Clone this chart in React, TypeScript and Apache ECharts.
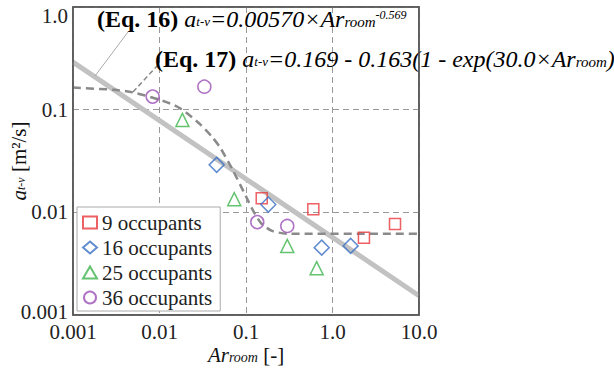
import React, { useEffect, useRef } from 'react';
import * as echarts from 'echarts';

const xTickLabels = ['0.001', '0.01', '0.1', '1.0', '10.0'];
const yTickLabels = ['0.001', '0.01', '0.1', '1.0'];

const legendNames = ['9 occupants', '16 occupants', '25 occupants', '36 occupants'];

const occ9X = [0.152, 0.6, 5.28, 2.31];
const occ9Y = [0.0137, 0.0107, 0.0077, 0.00567];
const occ16X = [0.0458, 0.181, 0.75, 1.62];
const occ16Y = [0.029, 0.0119, 0.00453, 0.00471];
const occ25X = [0.0184, 0.0731, 0.3, 0.656];
const occ25Y = [0.0794, 0.01344, 0.00471, 0.00286];
const occ36X = [0.00833, 0.033, 0.135, 0.3];
const occ36Y = [0.134, 0.1675, 0.00803, 0.00737];

const eq16X = [0.001, 10];
const eq16Y = [0.29, 0.00154];

const eq17X = [0.001, 0.003, 0.005, 0.01, 0.015, 0.02, 0.03, 0.04, 0.05, 0.07, 0.1, 0.12, 0.15, 0.2, 0.3, 10];
const eq17Y = [0.164, 0.156, 0.147, 0.125, 0.11, 0.095, 0.071, 0.055, 0.043, 0.026, 0.0143, 0.0105, 0.0078, 0.0066, 0.0062, 0.0062];

const FONT = 'Liberation Serif';

const zip = (xs: number[], ys: number[]) => xs.map((x, i) => [x, ys[i]]);

export default function App() {
  const ref = useRef<HTMLDivElement>(null);
  useEffect(() => {
    const chart = echarts.init(ref.current!, null, { renderer: 'svg' });
    const eqRich = {
      b: { fontFamily: FONT, fontWeight: 'bold', fontSize: 24, color: '#111' },
      i: { fontFamily: FONT, fontStyle: 'italic', fontSize: 24, color: '#111' },
      s: { fontFamily: FONT, fontStyle: 'italic', fontSize: 13, color: '#111', verticalAlign: 'bottom', padding: [0, 0, 3, 0] },
      r: { fontFamily: FONT, fontStyle: 'italic', fontSize: 15, color: '#111', verticalAlign: 'bottom', padding: [0, 0, 2, 0] },
      sup: { fontFamily: FONT, fontStyle: 'italic', fontSize: 12, color: '#111', verticalAlign: 'top', padding: [2, 0, 0, 0] },
    };
    const nameRich = {
      i: { fontFamily: FONT, fontStyle: 'italic', fontSize: 21, color: '#111' },
      s: { fontFamily: FONT, fontStyle: 'italic', fontSize: 12, color: '#111', verticalAlign: 'bottom', padding: [0, 0, 2, 0] },
      r: { fontFamily: FONT, fontStyle: 'italic', fontSize: 14, color: '#111', verticalAlign: 'bottom', padding: [0, 0, 1, 0] },
      n: { fontFamily: FONT, fontSize: 21, color: '#111' },
    };
    const scatterBase = (name: string, xs: number[], ys: number[], symbol: string, color: string, size: number) => ({
      name,
      type: 'scatter',
      data: zip(xs, ys),
      symbol,
      symbolSize: size,
      itemStyle: { color: 'rgba(255,255,255,0)', borderColor: color, borderWidth: 1.5 },
      z: 5,
    });
    chart.setOption({
      animation: false,
      backgroundColor: '#fff',
      grid: {
        left: 73,
        right: 195,
        top: 7,
        bottom: 54,
        containLabel: false,
        outerBoundsMode: 'none',
        show: true,
        borderColor: '#555',
        borderWidth: 1.5,
        backgroundColor: 'transparent',
      },
      xAxis: {
        type: 'log',
        logBase: 10,
        min: 0.001,
        max: 10,
        name: '{i|Ar}{r|room}{n| [-]}',
        nameLocation: 'middle',
        nameGap: 29,
        nameMoveOverlap: false,
        nameTextStyle: { rich: nameRich },
        axisLine: { show: false },
        axisTick: { show: false },
        axisLabel: {
          showMinLabel: true,
          showMaxLabel: true,
          hideOverlap: false,
          fontFamily: FONT,
          fontSize: 21,
          color: '#222',
          margin: 6,
          formatter: (v: number) => xTickLabels[Math.round(Math.log10(v)) + 3],
        },
        splitLine: { show: true, lineStyle: { color: '#999', type: [6, 4], width: 1 } },
      },
      yAxis: {
        type: 'log',
        logBase: 10,
        min: 0.001,
        max: 1,
        name: '{i|a}{s|t-v}{n| [m²/s]}',
        nameLocation: 'middle',
        nameRotate: 90,
        nameGap: 44,
        nameMoveOverlap: false,
        nameTextStyle: { rich: nameRich },
        axisLine: { show: false },
        axisTick: { show: false },
        axisLabel: {
          showMinLabel: true,
          showMaxLabel: true,
          hideOverlap: false,
          fontFamily: FONT,
          fontSize: 21,
          color: '#222',
          margin: 5,
          formatter: (v: number) => {
            const i = Math.round(Math.log10(v)) + 3;
            if (i === 3) return '{top|' + yTickLabels[i] + '}';
            if (i === 0) return '{bot|' + yTickLabels[i] + '}';
            return yTickLabels[i];
          },
          rich: {
            top: { fontFamily: FONT, fontSize: 21, color: '#222', padding: [18, 0, 0, 0] },
            bot: { fontFamily: FONT, fontSize: 21, color: '#222', padding: [0, 0, 6, 0] },
          },
        },
        splitLine: { show: true, lineStyle: { color: '#999', type: [6, 4], width: 1 } },
      },
      legend: {
        data: legendNames,
        orient: 'vertical',
        left: 77,
        top: 207,
        itemWidth: 14,
        itemHeight: 12,
        itemGap: 4,
        padding: [5, 8, 3, 5],
        backgroundColor: '#fff',
        borderColor: '#aaa',
        borderWidth: 1,
        textStyle: { fontFamily: FONT, fontSize: 21, color: '#222' },
        z: 10,
      },
      series: [
        {
          name: 'Eq. 16',
          type: 'line',
          data: zip(eq16X, eq16Y),
          showSymbol: false,
          symbol: 'none',
          lineStyle: { color: '#c2c2c2', width: 5 },
          z: 2,
        },
        {
          name: 'Eq. 17',
          type: 'line',
          data: zip(eq17X, eq17Y),
          showSymbol: false,
          symbol: 'none',
          smooth: 0.25,
          lineStyle: { color: '#8a8a8a', width: 2.5, type: [8, 5] },
          z: 3,
        },
        scatterBase('9 occupants', occ9X, occ9Y, 'rect', '#e8383d', 11),
        scatterBase('16 occupants', occ16X, occ16Y, 'diamond', '#3a6fc4', 15),
        scatterBase('25 occupants', occ25X, occ25Y, 'triangle', '#3cb44b', 13),
        scatterBase('36 occupants', occ36X, occ36Y, 'circle', '#9b4fb5', 13),
      ],
      graphic: [
        {
          type: 'rect',
          shape: { x: 73, y: 7, width: 346, height: 308 },
          style: { fill: 'transparent', stroke: '#555', lineWidth: 1.5 },
          z: 100,
          silent: true,
        },
        {
          type: 'line',
          shape: { x1: 95, y1: 76, x2: 128, y2: 32 },
          style: { stroke: '#aaa', lineWidth: 1 },
          z: 50,
        },
        {
          type: 'line',
          shape: { x1: 133, y1: 92, x2: 157, y2: 66 },
          style: { stroke: '#888', lineWidth: 1.5, lineDash: [5, 3] },
          z: 50,
        },
        {
          type: 'text',
          x: 97,
          y: 19,
          z: 60,
          style: {
            text: '{b|(Eq. 16) }{i|a}{s|t-v}{i|=0.00570×Ar}{r|room}{sup|-0.569}',
            rich: eqRich,
            verticalAlign: 'middle',
            align: 'left',
          },
        },
        {
          type: 'text',
          x: 155,
          y: 59,
          z: 60,
          style: {
            text: '{b|(Eq. 17) }{i|a}{s|t-v}{i|=0.169 - 0.163(1 - exp(30.0×Ar}{r|room}{i|)}',
            rich: eqRich,
            verticalAlign: 'middle',
            align: 'left',
          },
        },
      ],
    });
    return () => chart.dispose();
  }, []);
  return (
    <div
      ref={ref}
      style={{ position: 'fixed', left: 0, top: 0, width: 614, height: 369, background: '#fff' }}
    />
  );
}
